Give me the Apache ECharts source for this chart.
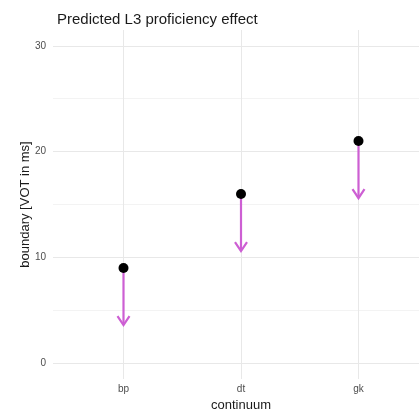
<!DOCTYPE html>
<html>
<head>
<meta charset="utf-8">
<script src="https://cdn.jsdelivr.net/npm/echarts@6/dist/echarts.min.js"></script>
<style>
  html, body { margin: 0; padding: 0; background: #ffffff; }
  #chart { width: 419px; height: 411px; }
</style>
</head>
<body>
<div id="chart"></div>
<script>
// Place-of-articulation continua on the x axis
const categories = ['bp', 'dt', 'gk'];
// Predicted category boundary (VOT in ms) before the L3 proficiency effect
const predicted = [9, 16, 21];
// Boundary after the proficiency effect (arrow tips)
const shifted = [3.6, 10.6, 15.6];
// Axis ticks
const yTicks = [0, 10, 20, 30];
const yMinorTicks = [5, 15, 25];
const xPositions = categories.map((c, i) => i + 1);

const FONT = '"Liberation Sans", Arial, Helvetica, sans-serif';
const ARROW = '#cd5fd3';

const chart = echarts.init(document.getElementById('chart'), null, { renderer: 'canvas' });

const arrowData = xPositions.map((x, i) => [x, predicted[i], shifted[i]]);
const pointData = xPositions.map((x, i) => [x, predicted[i]]);

function gridLine(axis, v, color) {
  const d = {};
  d[axis] = v;
  d.lineStyle = { color: color, width: 1, type: 'solid' };
  return d;
}

const gridLines = []
  .concat(yMinorTicks.map(v => gridLine('yAxis', v, '#f3f3f3')))
  .concat(yTicks.map(v => gridLine('yAxis', v, '#e8e8e8')))
  .concat(xPositions.map(v => gridLine('xAxis', v, '#e8e8e8')));

chart.setOption({
  animation: false,
  backgroundColor: '#ffffff',
  title: {
    text: 'Predicted L3 proficiency effect',
    left: 52,
    top: 7,
    textStyle: { fontFamily: FONT, fontSize: 15, fontWeight: 'normal', color: '#1a1a1a' }
  },
  grid: { left: 53, right: -10, top: 30, bottom: 32, containLabel: false, outerBoundsMode: 'none' },
  xAxis: {
    type: 'value',
    min: 0.4,
    max: 3.6,
    name: 'continuum',
    nameLocation: 'middle',
    nameGap: 20,
    nameMoveOverlap: false,
    nameTextStyle: { fontFamily: FONT, fontSize: 13, color: '#1a1a1a' },
    axisLine: { show: false },
    axisTick: { show: false },
    splitLine: { show: false },
    axisLabel: {
      customValues: xPositions,
      margin: 5,
      fontFamily: FONT,
      fontSize: 10,
      color: '#4d4d4d',
      formatter: v => categories[Math.round(v) - 1] || ''
    }
  },
  yAxis: {
    type: 'value',
    min: -1.5,
    max: 31.5,
    name: 'boundary [VOT in ms]',
    nameLocation: 'middle',
    nameGap: 21,
    nameMoveOverlap: false,
    nameTextStyle: { fontFamily: FONT, fontSize: 13, color: '#1a1a1a' },
    axisLine: { show: false },
    axisTick: { show: false },
    splitLine: { show: false },
    axisLabel: {
      customValues: yTicks,
      margin: 7,
      fontFamily: FONT,
      fontSize: 10,
      color: '#4d4d4d'
    }
  },
  series: [
    {
      name: 'gridlines',
      type: 'line',
      data: [],
      silent: true,
      z: 0,
      markLine: {
        silent: true,
        z: 0,
        symbol: ['none', 'none'],
        label: { show: false },
        emphasis: { disabled: true },
        animation: false,
        data: gridLines
      }
    },
    {
      name: 'effect',
      type: 'custom',
      z: 3,
      data: arrowData,
      renderItem: function (params, api) {
        const p1 = api.coord([api.value(0), api.value(1)]);
        const p2 = api.coord([api.value(0), api.value(2)]);
        const style = { stroke: ARROW, lineWidth: 2.2, fill: null, lineCap: 'butt', lineJoin: 'miter' };
        return {
          type: 'group',
          children: [
            { type: 'line', shape: { x1: p1[0], y1: p1[1], x2: p2[0], y2: p2[1] - 1 }, style: style },
            { type: 'polyline', shape: { points: [[p2[0] - 6, p2[1] - 9], [p2[0], p2[1]], [p2[0] + 6, p2[1] - 9]] }, style: style }
          ]
        };
      }
    },
    {
      name: 'predicted',
      type: 'scatter',
      z: 4,
      data: pointData,
      symbol: 'circle',
      symbolSize: 10,
      itemStyle: { color: '#000000', opacity: 1 }
    }
  ]
});
</script>
</body>
</html>
